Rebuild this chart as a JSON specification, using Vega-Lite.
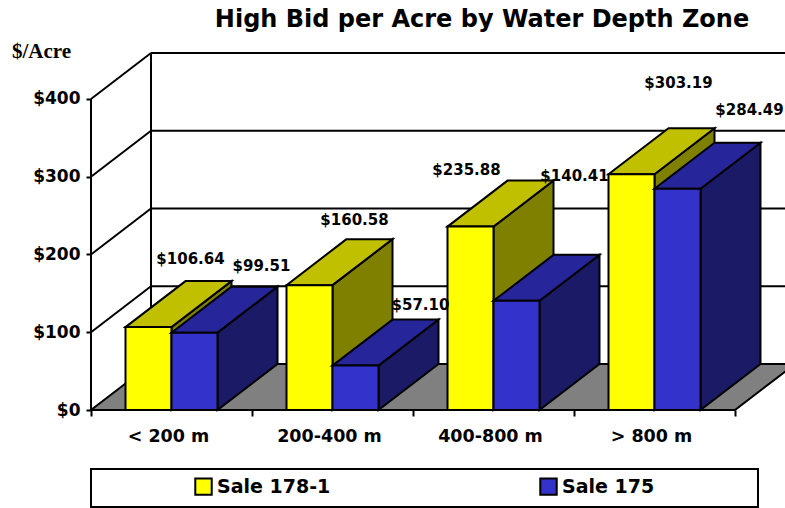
{
"$schema":"https://vega.github.io/schema/vega-lite/v6.json",
"width":694,"height":357,
"autosize":{"type":"none"},
"padding":{"left":91,"top":53,"right":0,"bottom":98},
"background":"white",
"config":{"view":{"stroke":null},"legend":{"strokeWidth":2}},
"title":{"text":"High Bid per Acre by Water Depth Zone","anchor":"middle","frame":"group","dx":44,"offset":-11,"baseline":"alphabetic","font":"DejaVu Sans","fontWeight":"bold","fontSize":24,"color":"black"},
"resolve":{"axis":{"x":"independent","y":"independent"}},
"datasets":{
"bars":[
{"zone":"< 200 m","series":"Sale 178-1","value":106.64},
{"zone":"< 200 m","series":"Sale 175","value":99.51},
{"zone":"200-400 m","series":"Sale 178-1","value":160.58},
{"zone":"200-400 m","series":"Sale 175","value":57.10},
{"zone":"400-800 m","series":"Sale 178-1","value":235.88},
{"zone":"400-800 m","series":"Sale 175","value":140.41},
{"zone":"> 800 m","series":"Sale 178-1","value":303.19},
{"zone":"> 800 m","series":"Sale 175","value":284.49}],
"levels":[{"level":0},{"level":100},{"level":200},{"level":300},{"level":400}]
},
"data":{"name":"bars"},
"transform":[
{"calculate":"indexof(['< 200 m','200-400 m','400-800 m','> 800 m'],datum.zone)","as":"i"},
{"calculate":"datum.series==='Sale 178-1'?0:1","as":"s"},
{"calculate":"datum.i+0.2143+datum.s*0.2857","as":"x0"},
{"calculate":"datum.x0+0.2857","as":"x1"},
{"calculate":"'$'+format(datum.value,'.2f')","as":"label"},
{"calculate":"[0,1]","as":"t"},
{"flatten":["t"]},
{"calculate":"datum.t*0.3727","as":"dx"},
{"calculate":"datum.t*59.16","as":"dy"},
{"calculate":"datum.x0+datum.dx","as":"tx0"},
{"calculate":"datum.x1+datum.dx","as":"tx1"},
{"calculate":"datum.value+datum.dy","as":"ty"}
],
"layer":[
{"data":{"name":"levels"},
 "transform":[{"calculate":"datum.level+59.16","as":"back"},{"filter":"datum.level>0"}],
 "mark":{"type":"rule","color":"black","strokeWidth":2},
 "encoding":{
  "x":{"datum":0.3727,"type":"quantitative","scale":{"domain":[0,4.3106],"nice":false,"zero":false},
   "axis":{"values":[0,1,2,3,4],"grid":false,"domain":false,"title":null,"tickColor":"black","tickWidth":2,"tickSize":6,"labelExpr":"['< 200 m','200-400 m','400-800 m','> 800 m',''][datum.value]","labelOffset":77,"labelFlush":false,"labelOverlap":false,"labelPadding":11,"labelFont":"DejaVu Sans","labelFontWeight":"bold","labelFontSize":17.5,"labelColor":"black","labelAngle":0,"labelAlign":"center","labelBound":false,"labelLimit":200}},
  "x2":{"datum":4.3727},
  "y":{"field":"back","type":"quantitative","scale":{"domain":[0,459.16],"nice":false,"zero":false},
   "axis":{"values":[0,100,200,300,400],"labelExpr":"'$'+datum.value","grid":false,"domain":false,"tickColor":"black","tickWidth":2,"tickSize":5,"labelPadding":6,"labelFont":"DejaVu Sans","labelFontWeight":"bold","labelFontSize":17,"labelColor":"black","title":"$/Acre","titleFont":"Liberation Serif","titleFontWeight":"bold","titleFontSize":21,"titleColor":"black","titleAngle":0,"titleAlign":"center","titleBaseline":"middle","titleX":-50,"titleY":-2}}
 }},
{"data":{"name":"levels"},
 "transform":[{"calculate":"datum.level+59.16","as":"back"},{"filter":"datum.level>0"}],
 "mark":{"type":"rule","color":"black","strokeWidth":2},
 "encoding":{
  "x":{"datum":0,"type":"quantitative","scale":{"domain":[0,4.3106],"nice":false,"zero":false},"axis":null},
  "x2":{"datum":0.3727},
  "y":{"field":"level","type":"quantitative","scale":{"domain":[0,459.16],"nice":false,"zero":false},"axis":null},
  "y2":{"field":"back"}
 }},
{"data":{"name":"levels"},
 "transform":[{"filter":"datum.level===400"},{"calculate":"0","as":"zero"}],
 "mark":{"type":"rule","color":"black","strokeWidth":2},
 "encoding":{
  "x":{"datum":0,"type":"quantitative","scale":{"domain":[0,4.3106],"nice":false,"zero":false},"axis":null},
  "y":{"field":"zero","type":"quantitative","scale":{"domain":[0,459.16],"nice":false,"zero":false},"axis":null},
  "y2":{"field":"level"}
 }},
{"data":{"name":"levels"},
 "transform":[{"filter":"datum.level===400"},{"calculate":"datum.level+59.16","as":"back"},{"calculate":"59.16","as":"floor"}],
 "mark":{"type":"rule","color":"black","strokeWidth":2},
 "encoding":{
  "x":{"datum":0.3727,"type":"quantitative","scale":{"domain":[0,4.3106],"nice":false,"zero":false},"axis":null},
  "y":{"field":"floor","type":"quantitative","scale":{"domain":[0,459.16],"nice":false,"zero":false},"axis":null},
  "y2":{"field":"back"}
 }},
{"data":{"name":"levels"},
 "transform":[{"filter":"datum.level===0"},{"calculate":"[0,1]","as":"t"},{"flatten":["t"]},{"calculate":"datum.t*0.3727","as":"fx0"},{"calculate":"4+datum.t*0.3727","as":"fx1"},{"calculate":"datum.t*59.16","as":"fy"}],
 "mark":{"type":"area","orient":"horizontal","color":"#808080","stroke":"black","strokeWidth":2},
 "encoding":{
  "y":{"field":"fy","type":"quantitative","stack":null,"scale":{"domain":[0,459.16],"nice":false,"zero":false},"axis":null},
  "x":{"field":"fx0","type":"quantitative","stack":null,"scale":{"domain":[0,4.3106],"nice":false,"zero":false},"axis":null},
  "x2":{"field":"fx1"}
 }},

{"transform":[{"filter":"datum.s===0"}],
 "mark":{"type":"area","orient":"vertical","color":"#808000","stroke":"black","strokeWidth":2},
 "encoding":{"detail":{"field":"zone"},
  "x":{"field":"tx1","type":"quantitative","scale":{"domain":[0,4.3106],"nice":false,"zero":false},"axis":null},
  "y":{"field":"ty","type":"quantitative","stack":null,"scale":{"domain":[0,459.16],"nice":false,"zero":false},"axis":null},
  "y2":{"field":"dy"}}},
{"transform":[{"filter":"datum.s===0"}],
 "mark":{"type":"area","orient":"horizontal","color":"#C0C000","stroke":"black","strokeWidth":2},
 "encoding":{"detail":{"field":"zone"},
  "y":{"field":"ty","type":"quantitative","stack":null,"scale":{"domain":[0,459.16],"nice":false,"zero":false},"axis":null},
  "x":{"field":"tx0","type":"quantitative","stack":null,"scale":{"domain":[0,4.3106],"nice":false,"zero":false},"axis":null},
  "x2":{"field":"tx1"}}},
{"transform":[{"filter":"datum.s===0 && datum.t===0"}],
 "mark":{"type":"rect","stroke":"black","strokeWidth":2},
 "encoding":{
  "x":{"field":"x0","type":"quantitative","scale":{"domain":[0,4.3106],"nice":false,"zero":false},"axis":null},
  "x2":{"field":"x1"},
  "y":{"field":"value","type":"quantitative","scale":{"domain":[0,459.16],"nice":false,"zero":false},"axis":null},
  "y2":{"datum":0},
  "color":{"field":"series","type":"nominal","sort":null,"scale":{"domain":["Sale 178-1","Sale 175"],"range":["#FFFF00","#3333CC"]},
   "legend":{"orient":"none","legendX":0,"legendY":416,"direction":"horizontal","columns":2,"title":"\u00a0","titleOrient":"right","titlePadding":96,"titleFontSize":10,"padding":8,"strokeColor":"black","fillColor":"white","symbolType":"square","symbolSize":270,"symbolStrokeColor":"black","symbolStrokeWidth":2,"symbolOpacity":1,"symbolOffset":95,"columnPadding":113,"labelFont":"DejaVu Sans","labelFontWeight":"bold","labelFontSize":19,"labelColor":"black","labelOffset":4,"labelLimit":200}}}},

{"transform":[{"filter":"datum.s===1"}],
 "mark":{"type":"area","orient":"vertical","color":"#1A1A66","stroke":"black","strokeWidth":2},
 "encoding":{"detail":{"field":"zone"},
  "x":{"field":"tx1","type":"quantitative","scale":{"domain":[0,4.3106],"nice":false,"zero":false},"axis":null},
  "y":{"field":"ty","type":"quantitative","stack":null,"scale":{"domain":[0,459.16],"nice":false,"zero":false},"axis":null},
  "y2":{"field":"dy"}}},
{"transform":[{"filter":"datum.s===1"}],
 "mark":{"type":"area","orient":"horizontal","color":"#26269A","stroke":"black","strokeWidth":2},
 "encoding":{"detail":{"field":"zone"},
  "y":{"field":"ty","type":"quantitative","stack":null,"scale":{"domain":[0,459.16],"nice":false,"zero":false},"axis":null},
  "x":{"field":"tx0","type":"quantitative","stack":null,"scale":{"domain":[0,4.3106],"nice":false,"zero":false},"axis":null},
  "x2":{"field":"tx1"}}},
{"transform":[{"filter":"datum.s===1 && datum.t===0"}],
 "mark":{"type":"rect","stroke":"black","strokeWidth":2},
 "encoding":{
  "x":{"field":"x0","type":"quantitative","scale":{"domain":[0,4.3106],"nice":false,"zero":false},"axis":null},
  "x2":{"field":"x1"},
  "y":{"field":"value","type":"quantitative","scale":{"domain":[0,459.16],"nice":false,"zero":false},"axis":null},
  "y2":{"datum":0},
  "color":{"field":"series","type":"nominal","sort":null,"scale":{"domain":["Sale 178-1","Sale 175"],"range":["#FFFF00","#3333CC"]}}}},

{"transform":[{"filter":"datum.t===0 && datum.value===106.64"}],"mark":{"type":"text","dx":65,"dy":-68,"font":"DejaVu Sans","fontWeight":"bold","fontSize":15,"color":"black"},
 "encoding":{"x":{"field":"x0","type":"quantitative","scale":{"domain":[0,4.3106],"nice":false,"zero":false},"axis":null},"y":{"field":"value","type":"quantitative","scale":{"domain":[0,459.16],"nice":false,"zero":false},"axis":null},"text":{"field":"label"}}},
{"transform":[{"filter":"datum.t===0 && datum.value===99.51"}],"mark":{"type":"text","dx":90,"dy":-67,"font":"DejaVu Sans","fontWeight":"bold","fontSize":15,"color":"black"},
 "encoding":{"x":{"field":"x0","type":"quantitative","scale":{"domain":[0,4.3106],"nice":false,"zero":false},"axis":null},"y":{"field":"value","type":"quantitative","scale":{"domain":[0,459.16],"nice":false,"zero":false},"axis":null},"text":{"field":"label"}}},
{"transform":[{"filter":"datum.t===0 && datum.value===160.58"}],"mark":{"type":"text","dx":68,"dy":-65,"font":"DejaVu Sans","fontWeight":"bold","fontSize":15,"color":"black"},
 "encoding":{"x":{"field":"x0","type":"quantitative","scale":{"domain":[0,4.3106],"nice":false,"zero":false},"axis":null},"y":{"field":"value","type":"quantitative","scale":{"domain":[0,459.16],"nice":false,"zero":false},"axis":null},"text":{"field":"label"}}},
{"transform":[{"filter":"datum.t===0 && datum.value===57.10"}],"mark":{"type":"text","dx":88,"dy":-61,"font":"DejaVu Sans","fontWeight":"bold","fontSize":15,"color":"black"},
 "encoding":{"x":{"field":"x0","type":"quantitative","scale":{"domain":[0,4.3106],"nice":false,"zero":false},"axis":null},"y":{"field":"value","type":"quantitative","scale":{"domain":[0,459.16],"nice":false,"zero":false},"axis":null},"text":{"field":"label"}}},
{"transform":[{"filter":"datum.t===0 && datum.value===235.88"}],"mark":{"type":"text","dx":19,"dy":-57,"font":"DejaVu Sans","fontWeight":"bold","fontSize":15,"color":"black"},
 "encoding":{"x":{"field":"x0","type":"quantitative","scale":{"domain":[0,4.3106],"nice":false,"zero":false},"axis":null},"y":{"field":"value","type":"quantitative","scale":{"domain":[0,459.16],"nice":false,"zero":false},"axis":null},"text":{"field":"label"}}},
{"transform":[{"filter":"datum.t===0 && datum.value===140.41"}],"mark":{"type":"text","dx":81,"dy":-125,"font":"DejaVu Sans","fontWeight":"bold","fontSize":15,"color":"black"},
 "encoding":{"x":{"field":"x0","type":"quantitative","scale":{"domain":[0,4.3106],"nice":false,"zero":false},"axis":null},"y":{"field":"value","type":"quantitative","scale":{"domain":[0,459.16],"nice":false,"zero":false},"axis":null},"text":{"field":"label"}}},
{"transform":[{"filter":"datum.t===0 && datum.value===303.19"}],"mark":{"type":"text","dx":70,"dy":-91,"font":"DejaVu Sans","fontWeight":"bold","fontSize":15,"color":"black"},
 "encoding":{"x":{"field":"x0","type":"quantitative","scale":{"domain":[0,4.3106],"nice":false,"zero":false},"axis":null},"y":{"field":"value","type":"quantitative","scale":{"domain":[0,459.16],"nice":false,"zero":false},"axis":null},"text":{"field":"label"}}},
{"transform":[{"filter":"datum.t===0 && datum.value===284.49"}],"mark":{"type":"text","dx":95,"dy":-79,"font":"DejaVu Sans","fontWeight":"bold","fontSize":15,"color":"black"},
 "encoding":{"x":{"field":"x0","type":"quantitative","scale":{"domain":[0,4.3106],"nice":false,"zero":false},"axis":null},"y":{"field":"value","type":"quantitative","scale":{"domain":[0,459.16],"nice":false,"zero":false},"axis":null},"text":{"field":"label"}}}
]
}
